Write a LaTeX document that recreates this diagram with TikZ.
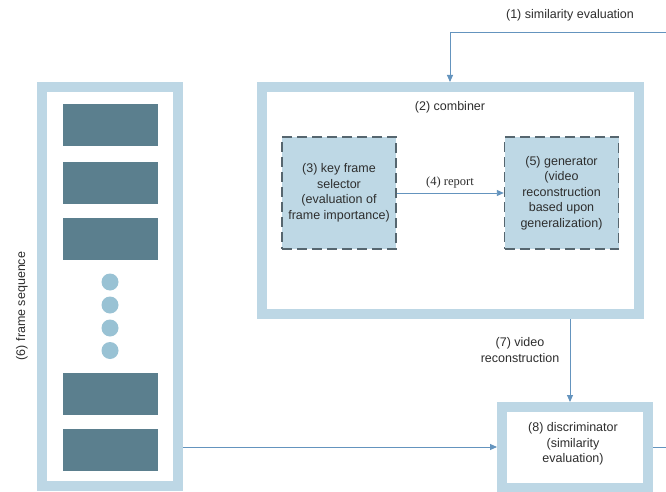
\documentclass[tikz,border=0pt]{standalone}
\usepackage{fontspec}
\setmainfont{Liberation Sans}
\newfontfamily\serifrm{Liberation Serif}
\usetikzlibrary{arrows.meta}
\definecolor{bordblue}{HTML}{BDD7E5}
\definecolor{boxfill}{HTML}{BED8E5}
\definecolor{darkframe}{HTML}{5B7F8E}
\definecolor{dotblue}{HTML}{99C2D4}
\definecolor{dashcol}{HTML}{56666F}
\definecolor{arrowcol}{HTML}{6494BE}
\definecolor{txt}{HTML}{2E2E2E}
\tikzset{
  thickbox/.style={draw=bordblue, line width=10pt, fill=white, inner sep=0pt},
  dashbox/.style={draw=dashcol, line width=1.4pt, dash pattern=on 10pt off 5pt, fill=boxfill,
    minimum width=114pt, minimum height=112pt, align=center, inner sep=0pt},
  framerect/.style={fill=darkframe, minimum width=95pt, minimum height=42pt, inner sep=0pt},
  dotc/.style={circle, fill=dotblue, minimum size=17pt, inner sep=0pt},
  conn/.style={draw=arrowcol, line width=0.9pt},
  arr/.style={conn, -{Triangle[length=7pt,width=6pt]}},
  lbl/.style={text=txt, align=center, inner sep=0pt},
}
\begin{document}
\begin{tikzpicture}[x=1pt, y=-1pt, font=\fontsize{12.5}{15.5}\selectfont, text=txt]
\useasboundingbox[fill=white] (0,0) rectangle (666,492);
% combiner
\node[thickbox, minimum width=377pt, minimum height=227pt] (comb) at (450.5,200.5) {};
\node[lbl] (combl) at (450,107) {(2) combiner};
\node[dashbox] (kfs) at (339,193) {(3) key frame\\selector\\(evaluation of\\frame importance)};
\node[dashbox] (gen) at (561.5,193) {(5) generator\\(video\\reconstruction\\based upon\\generalization)};
\draw[arr] (kfs.east) -- (gen.west);
\node[lbl, font=\fontsize{12.5}{15.5}\serifrm] (rep) at (450,182) {(4) report};
% top feedback
\coordinate (tr) at (666,32);
\coordinate (tc) at (450,32);
\draw[arr] (tr) -- (tc) -- (comb.north -| tc);
\node[lbl] (siml) at (570,15) {(1) similarity evaluation};
% frame sequence
\node[thickbox, minimum width=136pt, minimum height=399pt] (fs) at (110,286.5) {};
\node[framerect] (f1) at (110,125) {};
\node[framerect] (f2) at (110,182.5) {};
\node[framerect] (f3) at (110,238.5) {};
\node[dotc] (d1) at (110,282) {};
\node[dotc] (d2) at (110,305) {};
\node[dotc] (d3) at (110,328) {};
\node[dotc] (d4) at (110,350.5) {};
\node[framerect] (f4) at (110,394) {};
\node[framerect] (f5) at (110,449.5) {};
\node[lbl, rotate=90] (fsl) at (22,306) {(6) frame sequence};
% discriminator
\node[thickbox, minimum width=146pt, minimum height=81pt, align=center] (disc) at (575,447.5) {};
\node[lbl] (discl) at (573,444) {(8) discriminator\\(similarity\\evaluation)};
\draw[arr] (comb.south -| 570,0) -- (disc.north -| 570,0);
\node[lbl] (vrl) at (520,350) {(7) video\\reconstruction};
\coordinate (fsr) at (fs.east |- 0,447);
\draw[arr] (fsr) -- (disc.west |- fsr);
\coordinate (rend) at (666,447);
\draw[conn] (disc.east |- rend) -- (rend);
\end{tikzpicture}
\end{document}
